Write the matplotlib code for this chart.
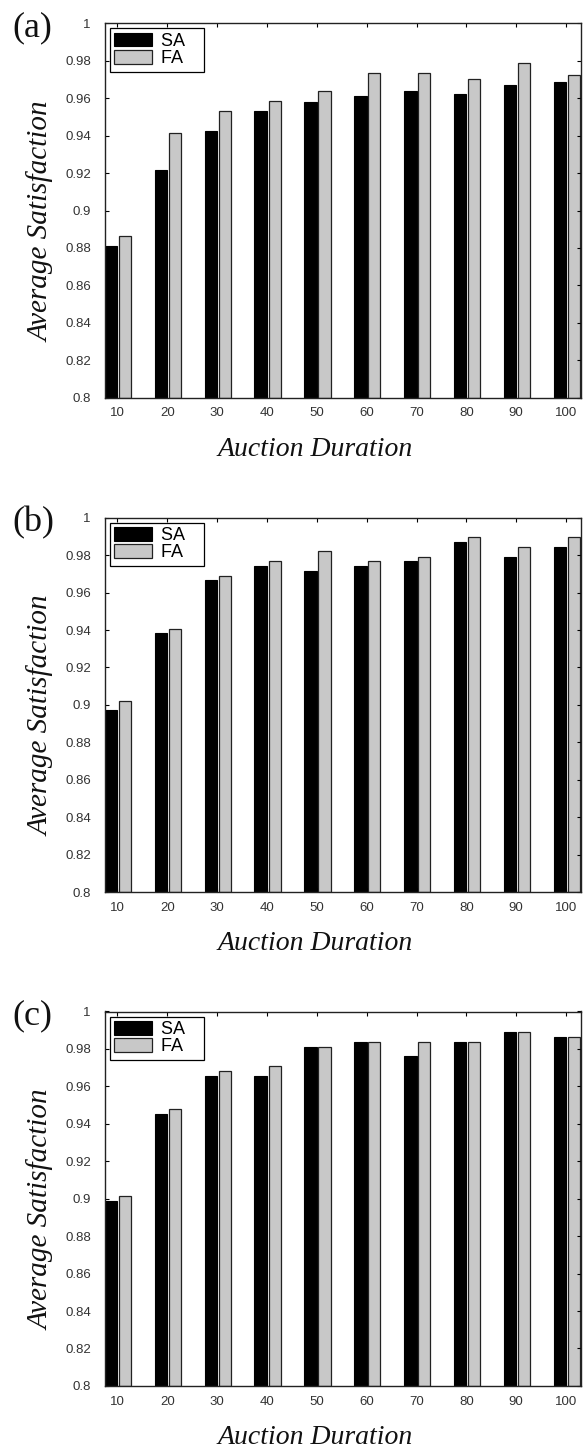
import matplotlib
matplotlib.use("Agg")
import matplotlib.pyplot as plt
import numpy as np

durations = [10, 20, 30, 40, 50, 60, 70, 80, 90, 100]
sa_a = [0.8812, 0.9216, 0.9425, 0.9533, 0.9578, 0.9613, 0.9638, 0.9624, 0.9670, 0.9688]
fa_a = [0.8866, 0.9416, 0.9530, 0.9587, 0.9638, 0.9736, 0.9736, 0.9700, 0.9786, 0.9726]
sa_b = [0.8971, 0.9383, 0.9667, 0.9742, 0.9717, 0.9742, 0.9769, 0.9872, 0.9792, 0.9843]
fa_b = [0.9021, 0.9406, 0.9690, 0.9769, 0.9820, 0.9769, 0.9792, 0.9895, 0.9843, 0.9895]
sa_c = [0.8990, 0.9453, 0.9657, 0.9657, 0.9812, 0.9838, 0.9762, 0.9838, 0.9888, 0.9863]
fa_c = [0.9016, 0.9478, 0.9684, 0.9709, 0.9810, 0.9838, 0.9838, 0.9838, 0.9888, 0.9863]
panel_labels = ["(a)", "(b)", "(c)"]
yticks = [0.8, 0.82, 0.84, 0.86, 0.88, 0.9, 0.92, 0.94, 0.96, 0.98, 1.0]
ytick_labels = ["0.8", "0.82", "0.84", "0.86", "0.88", "0.9", "0.92", "0.94", "0.96", "0.98", "1"]

W, H = 583, 1451
fig = plt.figure(figsize=(W / 100, H / 100), dpi=100)

sans = "Liberation Sans"
serif = "Liberation Serif"

panels = [(sa_a, fa_a, 23.3), (sa_b, fa_b, 517.7), (sa_c, fa_c, 1011.5)]
left_px, right_px = 104.7, 581.0
height_px = 374.4

x = np.array(durations, dtype=float)
for (sa, fa, top), lab in zip(panels, panel_labels):
    ax = fig.add_axes([left_px / W, 1 - (top + height_px) / H,
                       (right_px - left_px) / W, height_px / H])
    ax.bar(x - 1.25, np.array(sa) - 0.8, bottom=0.8, width=2.5, color="black",
           edgecolor="black", linewidth=0.8, label="SA   ")
    ax.bar(x + 1.55, np.array(fa) - 0.8, bottom=0.8, width=2.45, color="#c8c8c8",
           edgecolor="#222222", linewidth=0.9, label="FA   ")
    ax.set_xlim(7.45, 103.0)
    ax.set_ylim(0.8, 1.0)
    ax.set_xticks(durations)
    ax.set_xticklabels([str(d) for d in durations], fontfamily=sans, fontsize=9.5, color="#333333")
    ax.set_yticks(yticks)
    ax.set_yticklabels(ytick_labels, fontfamily=sans, fontsize=9.5, color="#333333")
    ax.tick_params(direction="in", top=True, right=True, length=3, width=0.8)
    ax.tick_params(axis="y", pad=10)
    ax.tick_params(axis="x", pad=7)
    for s in ax.spines.values():
        s.set_linewidth(1.0)
        s.set_color("#222222")
    ax.set_xlabel("Auction Duration", fontfamily=serif, style="italic", fontsize=20,
                  color="#111111")
    ax.xaxis.set_label_coords(0.4415, -0.105)
    ax.set_ylabel("Average Satisfaction", fontfamily=serif, style="italic", fontsize=21,
                  color="#111111")
    ax.yaxis.set_label_coords(-0.105, 0.47)
    leg = ax.legend(loc="upper left", prop={"family": sans, "size": 13}, frameon=True,
                    fancybox=False, edgecolor="black", framealpha=1,
                    handlelength=2.1, handleheight=0.78, borderpad=0.25,
                    labelspacing=0.0, handletextpad=0.5, borderaxespad=0.28)
    leg.get_frame().set_linewidth(0.9)
    fig.text(12 / W, 1 - (top - 12) / H, lab, fontfamily=serif, fontsize=26,
             ha="left", va="top", color="#111111")

fig.savefig("out.png", dpi=100, facecolor="white")
